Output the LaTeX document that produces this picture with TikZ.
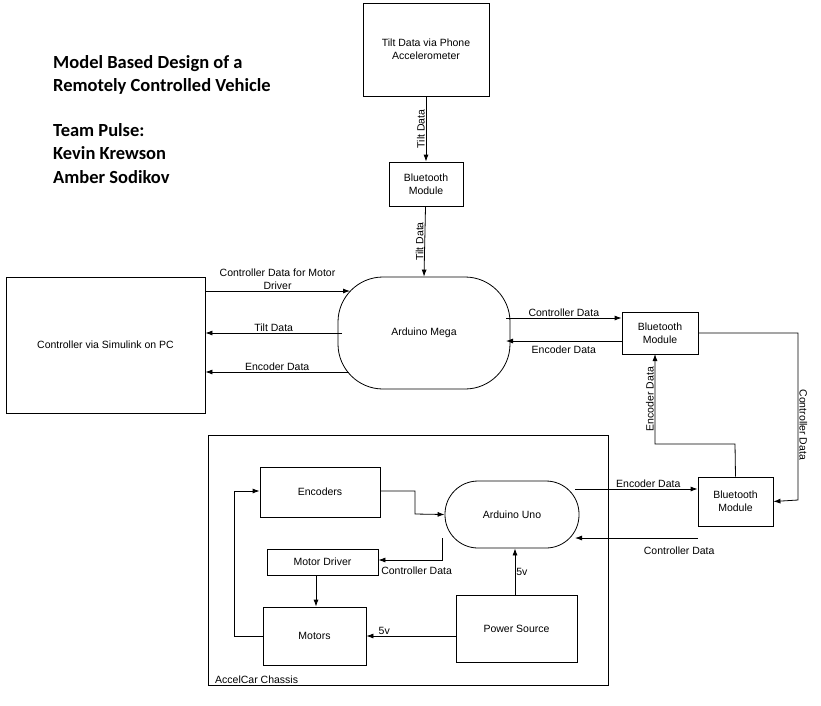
\documentclass[tikz,border=0pt]{standalone}
\usepackage{fontspec}
\setmainfont{Liberation Sans}
\newfontfamily\titlefont{Carlito}
\usetikzlibrary{arrows.meta}
\begin{document}
\begin{tikzpicture}[x=1pt,y=-1pt,
  box/.style={draw,thick,align=center,inner sep=0pt,font=\fontsize{10.5}{13}\selectfont},
  lbl/.style={font=\fontsize{10.5}{13}\selectfont,inner sep=1pt,align=center},
  ar/.style={thick,-{Latex[length=7pt,width=5pt]}}]
\useasboundingbox (0,0) rectangle (821,705);
\node[anchor=north west,align=left,font=\titlefont\bfseries\fontsize{18.5}{23.5}\selectfont,inner sep=0] (title) at (53,55)
 {Model Based Design of a\\Remotely Controlled Vehicle\\[21pt]Team Pulse:\\Kevin Krewson\\Amber Sodikov};
\node[box,minimum width=126,minimum height=93] (tilt) at (426,49.5) {Tilt Data via Phone\\Accelerometer};
\node[box,minimum width=74,minimum height=44] (bt1) at (426,184) {Bluetooth\\Module};
\node[box,draw,rounded corners=45pt,minimum width=172,minimum height=112] (mega) at (424,333) {Arduino Mega};
\node[box,minimum width=199,minimum height=136] (pc) at (105.5,345) {Controller via Simulink on PC};
\node[box,minimum width=76,minimum height=42] (bt2) at (660,333) {Bluetooth\\Module};
\node[box,minimum width=75,minimum height=49] (bt3) at (735.5,501.5) {Bluetooth\\Module};
\node[draw,thick,minimum width=400,minimum height=250,inner sep=0] (chassis) at (408,560) {};
\node[lbl,anchor=south west] (chl) at (214,685) {AccelCar Chassis};
\node[box,rounded corners=33pt,minimum width=134,minimum height=67] (uno) at (512,514.5) {Arduino Uno};
\node[box,minimum width=120,minimum height=50] (enc) at (320,492) {Encoders};
\node[box,minimum width=111,minimum height=26] (md) at (322.5,562) {Motor Driver};
\node[box,minimum width=103,minimum height=58] (mot) at (314.5,636) {Motors};
\node[box,minimum width=121,minimum height=67] (ps) at (516.5,628.5) {Power Source};

\draw[ar] (tilt) -- node[lbl,rotate=90,above] {Tilt Data} (bt1);
\draw[ar] (bt1) -- node[lbl,rotate=90,above] {Tilt Data} (mega.north);
\draw[ar] (205,291) -- node[lbl,above] {Controller Data for Motor\\Driver} (350,291);
\draw[ar] (342,333) -- node[lbl,above] {Tilt Data} (pc.east |- 0,333);
\draw[ar] (349,372) -- node[lbl,above] {Encoder Data} (pc.east |- 0,372);
\draw[ar] (506,318) -- node[lbl,above] {Controller Data} (bt2.west |- 0,318);
\draw[ar] (bt2.west |- 0,341) -- node[lbl,below,yshift=-3] {Encoder Data} (506,341);
\coordinate (c1) at (798,333); \coordinate (c2) at (798,500);
\draw[ar] (bt2.east) -- (c1) -- node[lbl,rotate=-90,above,pos=0.55] {Controller Data} (c2) -- (bt3.east);
\coordinate (e1) at (735,444); \coordinate (e2) at (655,444);
\draw[ar] (bt3.north) -- (e1) -- (e2) -- node[lbl,rotate=90,above] {Encoder Data} (655,354);
\draw[ar] (575,489) -- node[lbl,above,xshift=12] {Encoder Data} (bt3.west |- 0,489);
\draw[ar] (bt3.west |- 0,538) -- node[lbl,below,pos=0.15,yshift=-7] {Controller Data} (575,538);
\coordinate (n1) at (415,491); \coordinate (n2) at (415,514);
\draw[ar] (enc.east |- 0,491) -- (n1) -- (n2) -- (uno.west);
\coordinate (d1) at (442,538); \coordinate (d2) at (442,560);
\draw[ar] (d1) -- (d2) -- node[lbl,below,pos=0.4,yshift=-5] {Controller Data} (md.east |- 0,560);
\draw[ar] (md.south -| 316,0) -- (mot.north -| 316,0);
\coordinate (m1) at (234,636); \coordinate (m2) at (234,491);
\draw[ar] (mot.west) -- (m1) -- (m2) -- (enc.west |- 0,491);
\draw[ar] (ps.west |- 0,636) -- node[lbl,above,pos=0.8] {5v} (mot.east |- 0,636);
\draw[ar] (ps.north -| 515,0) -- node[lbl,right] {5v} (uno.south -| 515,0);
\end{tikzpicture}
\end{document}
